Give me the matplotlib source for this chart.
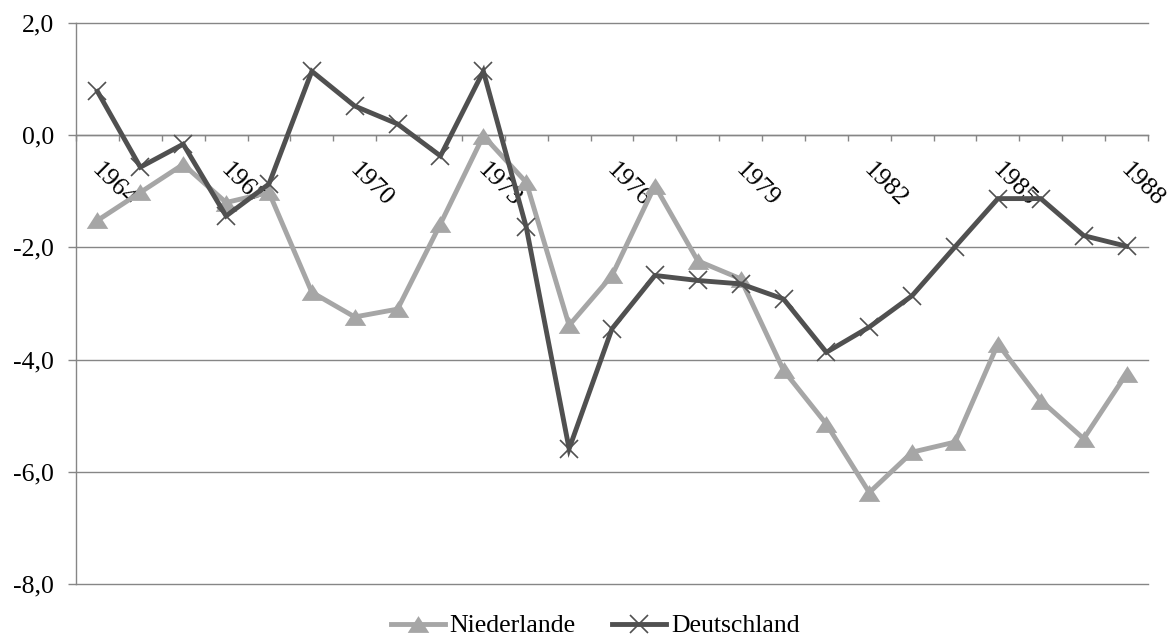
import matplotlib
matplotlib.use("Agg")
import matplotlib.pyplot as plt
from matplotlib.path import Path
from matplotlib.ticker import FixedLocator, FuncFormatter
from matplotlib.transforms import ScaledTranslation
import numpy as np

# Jahre und Werte
years = list(range(1964, 1989))
niederlande = [-1.52, -1.02, -0.52, -1.20, -1.02, -2.80, -3.24, -3.10, -1.58, -0.01,
               -0.84, -3.39, -2.50, -0.90, -2.24, -2.56, -4.19, -5.15, -6.37, -5.65,
               -5.47, -3.72, -4.73, -5.41, -4.25]
deutschland = [0.78, -0.57, -0.16, -1.44, -0.87, 1.14, 0.52, 0.20, -0.37, 1.14,
               -1.64, -5.59, -3.45, -2.50, -2.59, -2.65, -2.92, -3.87, -3.42, -2.86,
               -1.99, -1.13, -1.13, -1.79, -1.98]
y_ticks = [2.0, 0.0, -2.0, -4.0, -6.0, -8.0]
labelled_years = years[::3]

plt.rcParams['font.family'] = ['Liberation Serif', 'DejaVu Serif']

fig = plt.figure(figsize=(11.71, 6.40), dpi=100)
ax = fig.add_axes([76 / 1171, 1 - 584 / 640, (1148 - 76) / 1171, (584 - 23) / 640])

grid_col = '#868686'
nl_col = '#a6a6a6'
de_col = '#505050'

# flat triangle marker
tri = Path([(0, 0.78), (-1, -0.78), (1, -0.78), (0, 0.78)],
           [Path.MOVETO, Path.LINETO, Path.LINETO, Path.CLOSEPOLY])

ax.plot(years, niederlande, color=nl_col, lw=3.5, marker=tri, markersize=15.5,
        markeredgewidth=0, markerfacecolor=nl_col, label='Niederlande', zorder=3,
        solid_joinstyle='miter')
ax.plot(years, deutschland, color=de_col, lw=3.5, marker='x', markersize=13,
        markeredgewidth=1.2, markeredgecolor=de_col, label='Deutschland', zorder=4,
        solid_joinstyle='miter')

ax.set_xlim(years[0] - 0.5, years[-1] + 0.5)
ax.set_ylim(-8, 2)

# y axis
ax.yaxis.set_major_locator(FixedLocator(y_ticks))
ax.yaxis.set_major_formatter(FuncFormatter(lambda v, p: f"{v:.1f}".replace('.', ',')))
ax.yaxis.grid(True, color=grid_col, lw=1.0)
for gl in ax.yaxis.get_gridlines():
    gl.set_clip_on(False)
ax.tick_params(axis='y', direction='out', length=6, width=1.0, color=grid_col,
               labelsize=18.5, pad=10)

# category axis along zero
for s in ['top', 'right']:
    ax.spines[s].set_visible(False)
ax.spines['bottom'].set_position(('data', 0))
ax.spines['bottom'].set_color(grid_col)
ax.spines['left'].set_color(grid_col)
ax.spines['bottom'].set_linewidth(1.0)
ax.spines['left'].set_linewidth(1.0)

ax.xaxis.set_major_locator(FixedLocator(labelled_years))
ax.xaxis.set_minor_locator(FixedLocator(np.arange(years[0] - 0.5, years[-1] + 1.0, 1.0)))
ax.set_xticklabels([str(y) for y in labelled_years])
ax.tick_params(axis='x', which='major', length=0, labelsize=18.5, pad=17)
ax.tick_params(axis='x', which='minor', direction='out', length=4, width=1.0, color=grid_col)
shift = ScaledTranslation(4 / 72, 0, fig.dpi_scale_trans)
for lab in ax.get_xticklabels():
    lab.set_rotation(-45)
    lab.set_ha('left')
    lab.set_va('top')
    lab.set_rotation_mode('anchor')
    lab.set_transform(lab.get_transform() + shift)

fig.legend(loc='center', bbox_to_anchor=(595 / 1171, 1 - 626 / 640), ncol=2,
           frameon=False, fontsize=18.5, handlelength=2.1, handletextpad=0.2,
           columnspacing=1.4, borderaxespad=0)

fig.savefig('out.png', dpi=100)
